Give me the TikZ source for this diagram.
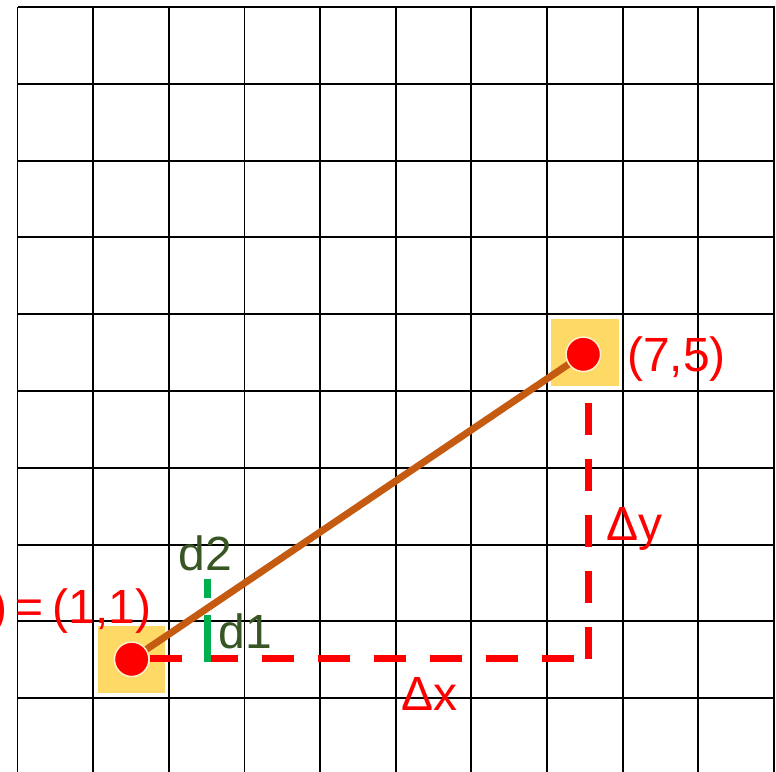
\documentclass[tikz,border=0pt]{standalone}
\usepackage{fontspec}
\setmainfont{Liberation Sans}
\definecolor{ptred}{HTML}{FF0000}
\definecolor{lnbrown}{HTML}{C55A11}
\definecolor{hlyellow}{HTML}{FFD966}
\definecolor{ringcream}{HTML}{FFF2CC}
\definecolor{tickgreen}{HTML}{00B050}
\definecolor{txtgreen}{HTML}{375623}
\begin{document}
\begin{tikzpicture}[x=1pt,y=-1pt,
  gridline/.style={black, line width=1.9pt},
  hlbox/.style={rectangle, fill=hlyellow, draw=none, minimum size=67.5pt, inner sep=0pt},
  ptdot/.style={circle, fill=ptred, draw=ringcream, line width=1.5pt, minimum size=34.5pt, inner sep=0pt},
  seg/.style={lnbrown, line width=7pt},
  guide/.style={ptred, line width=7pt, dash pattern=on 32pt off 24pt},
  ticksty/.style={tickgreen, line width=7pt},
  redlbl/.style={text=ptred, font=\fontsize{48}{52}\selectfont, inner sep=0pt},
  greenlbl/.style={text=txtgreen, font=\fontsize{48}{52}\selectfont, inner sep=0pt}]
\clip (0,0) rectangle (776,771);
\fill[white] (0,0) rectangle (776,771);
% grid
\foreach \i in {0,...,10} {
  \draw[gridline] ({17.5+75.65*\i},7) -- ({17.5+75.65*\i},776);
  \draw[gridline] (17.5,{7+76.8*\i}) -- (774.5,{7+76.8*\i});
}
% highlight squares
\node[hlbox] (b1) at (131.5,659.5) {};
\node[hlbox] (b2) at (585,352.5) {};
% point centres
\coordinate (c1) at (131.7,659.3);
\coordinate (c2) at (583.3,354.3);
% segment
\draw[seg] (c1) -- (c2);
% guides
\coordinate (gtop) at (588.5,402.7);
\coordinate (gcorner) at (588.5,658.7);
\draw[guide] (gtop) -- (gcorner);
\coordinate (hstart) at (150,658.2);
\coordinate (hend) at (574,658.2);
\draw[guide] (hstart) -- (hend);
% green ticks
\coordinate (t2a) at (207,579.3);
\coordinate (t2b) at (207,598.3);
\coordinate (t1a) at (207,615);
\coordinate (t1b) at (207,661.7);
\draw[ticksty] (t2a) -- (t2b);
\draw[ticksty] (t1a) -- (t1b);
% points
\node[ptdot] (p1) at (c1) {};
\node[ptdot] (p2) at (c2) {};
% labels
\node[redlbl, anchor=base west] (l75) at (627,371.7) {(7,5)};
\node[redlbl, anchor=base east] (l11) at (151.4,623.3) {)\hspace{8pt}=\hspace{9pt}(1,1)};
\node[redlbl, anchor=base west] (ldy) at (606.4,540) {Δy};
\node[redlbl, anchor=base west] (ldx) at (401.4,710.7) {Δx};
\node[greenlbl, anchor=base west] (ld2) at (178.4,570) {d2};
\node[greenlbl, anchor=base west] (ld1) at (218.4,648.3) {d1};
\end{tikzpicture}
\end{document}
